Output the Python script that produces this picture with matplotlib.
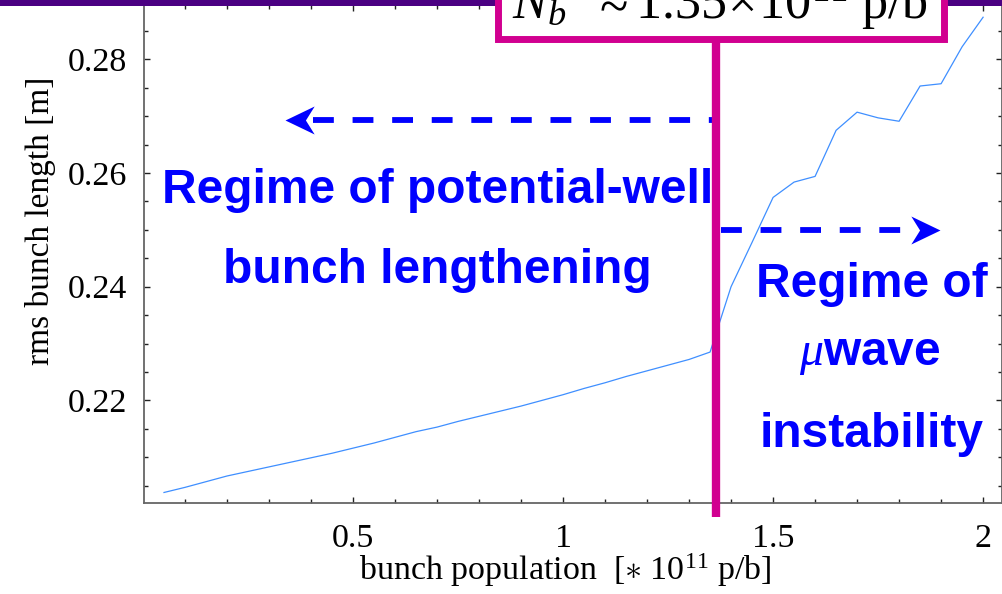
import matplotlib
matplotlib.use('Agg')
import matplotlib.pyplot as plt
from matplotlib.patches import Rectangle
from matplotlib.lines import Line2D
from matplotlib.path import Path
from matplotlib.ticker import MultipleLocator
import matplotlib.transforms as mtransforms

# ---------------- data ----------------
population = [0.05, 0.10, 0.15, 0.20, 0.25, 0.30, 0.35, 0.40, 0.45, 0.50,
              0.55, 0.60, 0.65, 0.70, 0.75, 0.80, 0.85, 0.90, 0.95, 1.00,
              1.05, 1.10, 1.15, 1.20, 1.25, 1.30, 1.35, 1.40, 1.45, 1.50,
              1.55, 1.60, 1.65, 1.70, 1.75, 1.80, 1.85, 1.90, 1.95, 2.00]
rms_length = [0.2038, 0.2047, 0.2057, 0.2067, 0.2075, 0.2083, 0.2091, 0.2099, 0.2107, 0.2116,
              0.2125, 0.2135, 0.2145, 0.2153, 0.2163, 0.2172, 0.2181, 0.2190, 0.2200, 0.2210,
              0.2221, 0.2231, 0.2242, 0.2252, 0.2262, 0.2272, 0.2285, 0.2400, 0.2478, 0.2557,
              0.2584, 0.2594, 0.2675, 0.2707, 0.2697, 0.2691, 0.2753, 0.2757, 0.2822, 0.2874]

xticks = [0.5, 1.0, 1.5, 2.0]
xticklabels = ['0.5', '1', '1.5', '2']
yticks = [0.22, 0.24, 0.26, 0.28]
yticklabels = ['0.22', '0.24', '0.26', '0.28']

threshold_x = 1.365
left_arrow = dict(y=0.2693, x_start=0.405, x_end=1.355, tip=0.338)
right_arrow = dict(y=0.2500, x_start=1.375, x_end=1.830, tip=1.898)

# ---------------- style ----------------
plt.rcParams['font.family'] = ['Liberation Serif', 'DejaVu Serif']
plt.rcParams['mathtext.fontset'] = 'custom'
plt.rcParams['mathtext.rm'] = 'Liberation Serif'
plt.rcParams['mathtext.it'] = 'Liberation Serif:italic'
plt.rcParams['mathtext.bf'] = 'Liberation Serif:bold'

W, H = 1002, 594
fig = plt.figure(figsize=(W / 100, H / 100), dpi=100)
fig.patch.set_facecolor('white')

def fx(px):
    return px / W

def fy(py):
    return 1 - py / H

ax = fig.add_axes([fx(144), fy(503), fx(1002) - fx(144), fy(5) - fy(503)])
ax.set_xlim(0.0024, 2.045)
ax.set_ylim(0.20195, 0.28955)

ax.plot(population, rms_length, color='#3f8fff', lw=0.9, zorder=2)

ax.set_xticks(xticks, xticklabels)
ax.set_yticks(yticks, yticklabels)
ax.xaxis.set_minor_locator(MultipleLocator(0.1))
ax.yaxis.set_minor_locator(MultipleLocator(0.005))
ax.tick_params(which='both', direction='in', top=True, right=True,
               labeltop=False, labelright=False, color='#222222', width=1.0)
ax.tick_params(which='major', length=4.0, labelsize=24.5)
ax.tick_params(which='minor', length=2.8)
ax.tick_params(axis='x', which='major', pad=14.5)
ax.tick_params(axis='y', which='major', pad=12)
for s in ax.spines.values():
    s.set_color('#666666')
    s.set_linewidth(1.3)

ax.set_xlabel('bunch population  [$\\ast$ 10$^{11}$ p/b]', fontsize=24.5, va='baseline')
ax.xaxis.set_label_coords((565 - 144) / 858, -(580 - 503) / 498)
ax.set_ylabel('rms bunch length [m]', fontsize=24, va='center', ha='center')
ax.yaxis.set_label_coords((41 - 144) / 858, (503 - 221) / 498)

blue = '#0000ff'
mag = '#d10090'

# dashed arrows
lw_arrow = 4.2
dash = (15.0 / lw_arrow, 13.5 / lw_arrow)

def head_path(direction):
    s = 1 if direction > 0 else -1
    verts = [(0, 0), (-s * 1.0, 0.48), (-s * 0.70, 0), (-s * 1.0, -0.48), (0, 0)]
    codes = [Path.MOVETO, Path.LINETO, Path.LINETO, Path.LINETO, Path.CLOSEPOLY]
    return Path(verts, codes)

for arr, d in ((left_arrow, -1), (right_arrow, 1)):
    xs = [arr['x_start'], arr['x_end']]
    ax.plot(xs, [arr['y'], arr['y']], color=blue, lw=lw_arrow,
            linestyle=(0, dash), dash_capstyle='butt', clip_on=False, zorder=3)
    ax.plot([arr['tip']], [arr['y']], marker=head_path(d), markersize=42,
            color=blue, markeredgewidth=0, linestyle='none', clip_on=False, zorder=3)

# region labels
txt_kw = dict(family=['Liberation Sans', 'DejaVu Sans'], weight='bold', color=blue,
              fontsize=34.5, ha='center', va='baseline')
fig.text(fx(437.5), fy(203), 'Regime of potential-well', **txt_kw)
fig.text(fx(437.5), fy(283), 'bunch lengthening', **txt_kw)
fig.text(fx(872), fy(297), 'Regime of', **txt_kw)
fig.text(fx(870), fy(365), r'$\mu$wave', **txt_kw)
fig.text(fx(872), fy(447), 'instability', **txt_kw)

# purple header bar
fig.add_artist(Rectangle((0, fy(6)), 1, 6 / H + 0.01, transform=fig.transFigure,
                         facecolor='#4b0082', edgecolor='none', zorder=3))

# threshold line (data x, figure y)
trans = mtransforms.blended_transform_factory(ax.transData, fig.transFigure)
fig.add_artist(Line2D([threshold_x, threshold_x], [fy(40), fy(517)], transform=trans,
                      color=mag, lw=6.0, solid_capstyle='butt', zorder=4))

# threshold box
fig.add_artist(Rectangle((fx(497.5), fy(39)), fx(944) - fx(497.5), 0.3,
                         transform=fig.transFigure, facecolor='white', edgecolor=mag,
                         lw=5.0, zorder=5))
fig.text(fx(512), fy(19), r'$N_b\ \ \approx 1.35\!\times\! 10^{11}\ \mathrm{p/b}$',
         fontsize=37.5, ha='left', va='baseline', color='black', zorder=6)

fig.savefig('out.png', dpi=100)
